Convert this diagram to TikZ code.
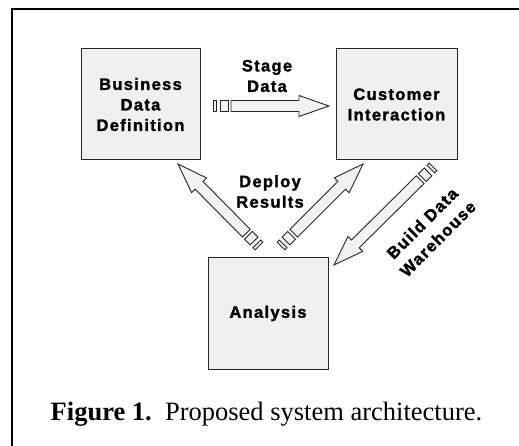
\documentclass[tikz,border=0pt]{standalone}
\usepackage{fontspec}
\setmainfont{Liberation Serif}
\newfontfamily\lblfont[LetterSpace=8,FakeBold=1.6]{Liberation Sans}
\usetikzlibrary{positioning,calc}
\tikzstyle{block}=[rectangle, draw=black!85, line width=1pt, fill=gray!12,
        minimum width=119pt, minimum height=111pt, inner sep=0pt,
        text centered, align=center, font=\lblfont\bfseries\fontsize{16.5}{20.5}\selectfont]
\tikzstyle{lbl}=[align=center, inner sep=0pt, font=\lblfont\bfseries\fontsize{16.5}{20.5}\selectfont]
\tikzstyle{fatpart}=[draw=black!85, fill=gray!10, line width=0.9pt, line join=miter]

% hollow block arrow from #1 to #2: two stubs, shaft, head
\newcommand\fatarrow[2]{%
  \foreach \s/\e in {0/3,7/15}
    \draw[fatpart] ($(#1)!\s pt!(#2)!5.5pt!90:(#2)$) -- ($(#1)!\e pt!(#2)!5.5pt!90:(#2)$)
      -- ($(#1)!\e pt!(#2)!5.5pt!-90:(#2)$) -- ($(#1)!\s pt!(#2)!5.5pt!-90:(#2)$) -- cycle;
  \draw[fatpart] ($(#1)!18pt!(#2)!5.5pt!90:(#2)$) -- ($(#2)!30pt!(#1)!5.5pt!-90:(#1)$)
    -- ($(#2)!30pt!(#1)!10.5pt!-90:(#1)$) -- (#2) -- ($(#2)!30pt!(#1)!10.5pt!90:(#1)$)
    -- ($(#2)!30pt!(#1)!5.5pt!90:(#1)$) -- ($(#1)!18pt!(#2)!5.5pt!-90:(#2)$) -- cycle;
}

\begin{document}
\begin{tikzpicture}[x=1pt,y=-1pt]
\useasboundingbox (0,0) rectangle (519,446);
\draw[line width=1.3pt] (12,446) -- (12,9) -- (519,9);

\node[block] (bdd) at (140.5,104.5) {Business\\Data\\Definition};
\node[block,minimum width=121pt] (cust) at (396.5,104.5) {Customer\\Interaction};
\node[block,minimum width=120pt] (anal) at (268,313.5) {Analysis};

\coordinate (stT) at (213,106);
\coordinate (stH) at (329,106);
\coordinate (dlT) at (259,246);
\coordinate (dlH) at (178,164);
\coordinate (drT) at (281,246);
\coordinate (drH) at (363,164);
\coordinate (bwT) at (433,167);
\coordinate (bwH) at (334,265);

\fatarrow{stT}{stH}
\fatarrow{dlT}{dlH}
\fatarrow{drT}{drH}
\fatarrow{bwT}{bwH}

\node[lbl] (stage) at (267,76) {Stage\\Data};
\node[lbl] (deploy) at (270,191.5) {Deploy\\Results};
\node[lbl,rotate=45,font=\lblfont\bfseries\fontsize{16.5}{22}\selectfont] (build) at (430,231) {Build Data\\Warehouse};

\node[anchor=base,font=\fontsize{26.5}{30}\selectfont] (cap) at (266.5,420)
  {\textbf{Figure 1.}\enspace Proposed system architecture.};
\end{tikzpicture}
\end{document}
